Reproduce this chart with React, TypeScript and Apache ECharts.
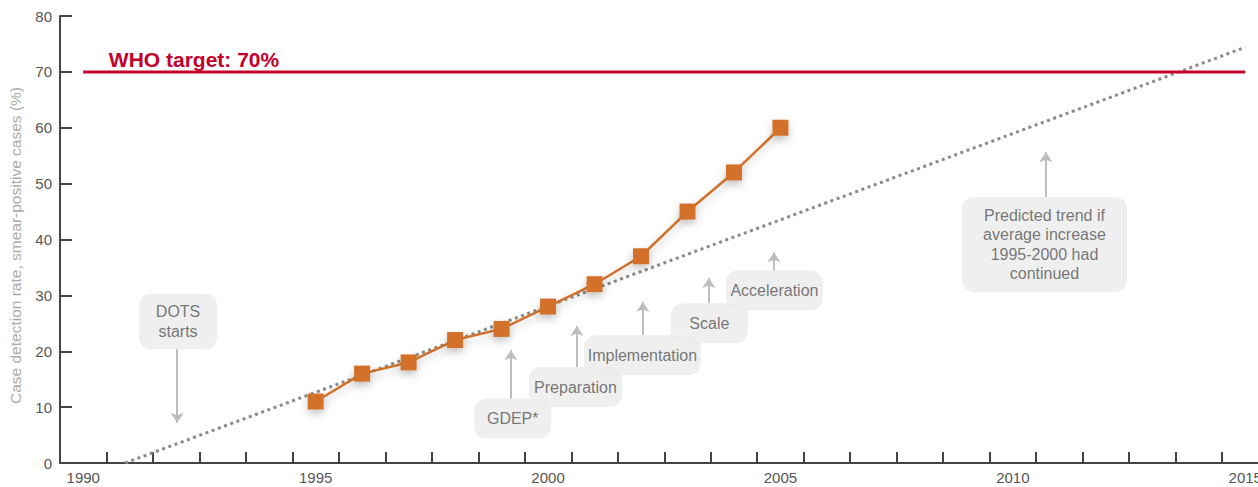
import React, { useEffect, useRef } from 'react';
import * as echarts from 'echarts';

// ---- data ----
const yearCategories = [
  '1990', '1991', '1992', '1993', '1994', '1995', '1996', '1997', '1998', '1999',
  '2000', '2001', '2002', '2003', '2004', '2005', '2006', '2007', '2008', '2009',
  '2010', '2011', '2012', '2013', '2014', '2015',
];
const detectionYears = [1995, 1996, 1997, 1998, 1999, 2000, 2001, 2002, 2003, 2004, 2005];
const detectionRates = [11, 16, 18, 22, 24, 28, 32, 37, 45, 52, 60];

const trendYears = [1990.9, 2015];
const trendValues = [0, 74.4];

const targetYears = [1990, 2015];
const targetValue = 70;
const targetLabel = 'WHO target: 70%';

const yTicks = [0, 10, 20, 30, 40, 50, 60, 70, 80];
const yAxisName = 'Case detection rate, smear-positive cases (%)';

// annotation boxes: text, anchor year, anchor value
const noteTexts = [
  'DOTS\nstarts',
  'GDEP*',
  'Preparation',
  'Implementation',
  'Scale',
  'Acceleration',
  'Predicted trend if\naverage increase\n1995-2000 had\ncontinued',
];
const noteYears = [1992.04, 1999.24, 2000.59, 2002.03, 2003.47, 2004.87, 2010.68];
const noteValues = [25.3, 7.96, 13.6, 19.3, 25.0, 30.9, 39.1];

// arrows: year, from value, to value
const arrowYears = [1992.02, 1999.2, 2000.62, 2002.04, 2003.46, 2004.86, 2010.71];
const arrowFrom = [20.4, 11.4, 17.2, 22.9, 28.6, 34.3, 47.6];
const arrowTo = [7.2, 20.2, 24.5, 28.8, 33.1, 37.7, 55.6];

// ---- styles ----
const noteBoxWidths = [78, 77, 93, 117, 77, 97, 165];
const noteBoxLines = [2, 1, 1, 1, 1, 1, 4];
const FONT = '"Liberation Sans", Arial, Helvetica, sans-serif';
const AXIS_COLOR = '#444444';
const TEXT_COLOR = '#555555';
const RED = '#c4002b';
const ORANGE = '#d3712b';

function buildOption() {
  const noteData = noteTexts.map((t, i) => {
    const lines = noteBoxLines[i];
    const single = lines === 1;
    return {
      value: [noteYears[i], noteValues[i]],
      label: {
        formatter: t,
        width: noteBoxWidths[i],
        lineHeight: single ? 40 : 19.3,
        padding: single ? [0, 0, 0, 0] : lines === 2 ? [8.5, 0, 8.5, 0] : [9, 0, 9, 0],
      },
    };
  });

  return {
    animation: false,
    textStyle: { fontFamily: FONT },
    grid: {
      left: 60,
      right: -10.5,
      top: 16,
      bottom: 24,
      containLabel: false,
      outerBoundsMode: 'none',
    },
    xAxis: [
      {
        type: 'category',
        data: yearCategories,
        boundaryGap: true,
        axisLine: { show: true, lineStyle: { color: AXIS_COLOR, width: 2 } },
        axisTick: {
          show: true,
          inside: true,
          interval: 0,
          length: 11,
          lineStyle: { color: AXIS_COLOR, width: 2 },
        },
        axisLabel: {
          interval: (index: number) => index % 5 === 0,
          color: TEXT_COLOR,
          fontSize: 15,
          fontFamily: FONT,
          margin: 7,
        },
        splitLine: { show: false },
      },
      {
        type: 'value',
        min: 1989.5,
        max: 2015.5,
        show: false,
      },
    ],
    yAxis: {
      type: 'value',
      min: yTicks[0],
      max: yTicks[yTicks.length - 1],
      interval: 10,
      name: yAxisName,
      nameLocation: 'middle',
      nameGap: 37,
      nameTextStyle: { color: '#aaaaaa', fontSize: 15.5, fontFamily: FONT, padding: [0, 12, 0, 0] },
      axisLine: { show: true, lineStyle: { color: AXIS_COLOR, width: 2 } },
      axisTick: { show: true, inside: true, length: 12, lineStyle: { color: AXIS_COLOR, width: 2 } },
      axisLabel: { color: TEXT_COLOR, fontSize: 15, fontFamily: FONT, margin: 8 },
      splitLine: { show: false },
    },
    series: [
      {
        name: 'trend',
        type: 'line',
        xAxisIndex: 1,
        data: trendYears.map((y, i) => [y, trendValues[i]]),
        symbol: 'none',
        lineStyle: { color: '#8a8a8a', width: 3, type: [3, 3.6] },
        z: 2,
      },
      {
        name: 'target',
        type: 'line',
        xAxisIndex: 1,
        data: targetYears.map((y) => [y, targetValue]),
        symbol: 'none',
        lineStyle: { color: RED, width: 3 },
        z: 2,
        markPoint: {
          silent: true,
          data: [
            {
              coord: [1990.55, 72.3],
              symbol: 'circle',
              symbolSize: 1,
              itemStyle: { color: 'rgba(0,0,0,0)' },
              label: {
                show: true,
                formatter: targetLabel,
                position: 'inside',
                align: 'left',
                verticalAlign: 'middle',
                color: RED,
                fontSize: 21,
                fontWeight: 'bold',
                fontFamily: FONT,
              },
            },
          ],
        },
        markLine: {
          silent: true,
          symbol: ['none', 'arrow'],
          symbolSize: 10,
          label: { show: false },
          lineStyle: { color: '#bdbdbd', width: 2, type: 'solid' },
          emphasis: { disabled: true },
          data: arrowYears.map((x, i) => [
            { coord: [x, arrowFrom[i]] },
            { coord: [x, arrowTo[i]] },
          ]),
        },
      },
      {
        name: 'Case detection rate',
        type: 'line',
        xAxisIndex: 1,
        data: detectionYears.map((y, i) => [y, detectionRates[i]]),
        symbol: 'rect',
        symbolSize: 16,
        lineStyle: {
          color: ORANGE,
          width: 2.5,
          shadowColor: 'rgba(0,0,0,0.22)',
          shadowBlur: 8,
          shadowOffsetY: 4,
        },
        itemStyle: {
          color: ORANGE,
          shadowColor: 'rgba(0,0,0,0.22)',
          shadowBlur: 8,
          shadowOffsetY: 4,
        },
        z: 4,
      },
      {
        name: 'notes',
        type: 'scatter',
        xAxisIndex: 1,
        symbol: 'circle',
        symbolSize: 1,
        itemStyle: { color: 'rgba(0,0,0,0)' },
        silent: true,
        z: 5,
        label: {
          show: true,
          position: 'inside',
          align: 'center',
          verticalAlign: 'middle',
          color: TEXT_COLOR,
          fontSize: 16,
          fontFamily: FONT,
          backgroundColor: '#ebebeb',
          borderRadius: 12,
        },
        data: noteData,
      },
    ],
  };
}

export default function App() {
  const ref = useRef<HTMLDivElement>(null);
  useEffect(() => {
    document.body.style.margin = '0';
    const chart = echarts.init(ref.current as HTMLDivElement, null, { renderer: 'svg' });
    chart.setOption(buildOption() as any);
    return () => {
      chart.dispose();
    };
  }, []);
  return <div ref={ref} style={{ width: 1258, height: 487 }} />;
}
